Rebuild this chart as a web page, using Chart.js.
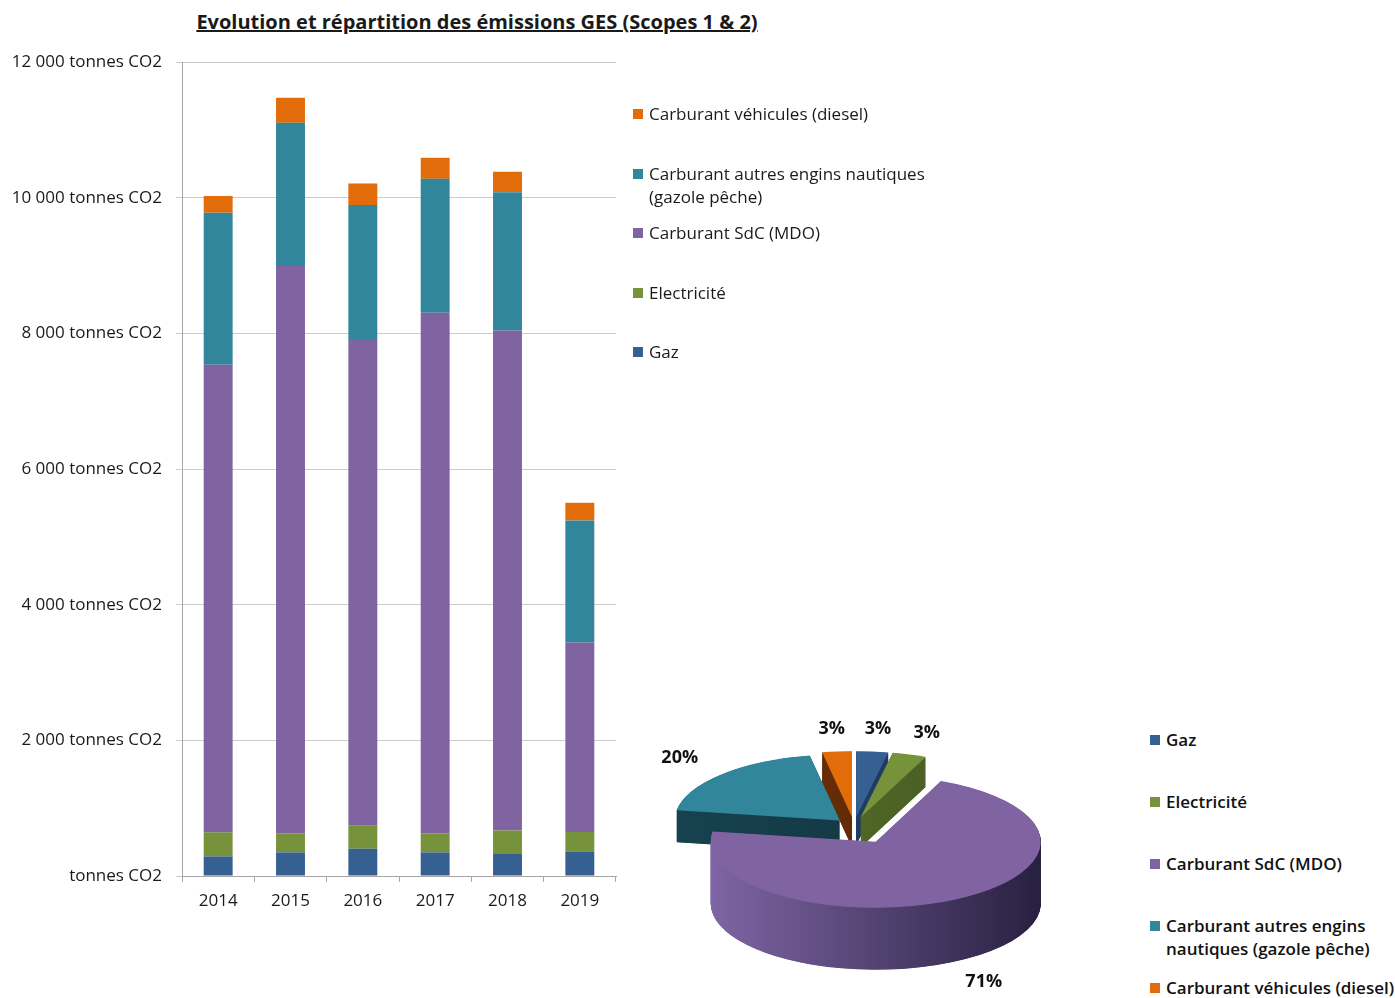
<!DOCTYPE html>
<html lang="fr">
<head>
<meta charset="utf-8">
<script src="https://cdn.jsdelivr.net/npm/chart.js@4.4.1/dist/chart.umd.min.js"></script>
<style>
	body		{ margin: 0; width: 1395px; height: 998px; overflow: hidden; background: #fff; position: relative;
				  font-family: "Open Sans", sans-serif; color: #1a1a1a; }
	#title		{ position: absolute; left: 0; top: 8px; width: 954px; text-align: center;
				  font-weight: bold; font-size: 20px; text-decoration: underline; }
	#barChart	{ position: absolute; left: 0; top: 0; }
	#pieChart	{ position: absolute; left: 614px; top: 646px; }
	.legend		{ position: absolute; font-size: 17px; line-height: 23px; }
	.legend .item	{ position: absolute; left: 0; white-space: nowrap; padding-left: 16px; }
	.legend .sw		{ position: absolute; left: 0; top: 7px; width: 10px; height: 10px; }
	#pieLegend	{ font-weight: 600; color: #111; }
</style>
</head>
<body>
<div id="title">Evolution et répartition des émissions GES (Scopes 1 &amp; 2)</div>
<canvas id="barChart" width="640" height="930"></canvas>
<div id="barLegend" class="legend" style="left:633px; top:102px;"></div>
<canvas id="pieChart" width="480" height="360"></canvas>
<div id="pieLegend" class="legend" style="left:1150px; top:728px;"></div>
<script>
// données (tonnes CO2)
const years				= [ '2014', '2015', '2016', '2017', '2018', '2019' ];
const gaz				= [ 289, 348, 402, 348, 324, 363 ];
const electricite		= [ 354, 280, 339, 280, 347, 286 ];
const carburantSdC		= [ 6894, 8364, 7174, 7675, 7370, 2794 ];
const carburantAutres	= [ 2241, 2112, 1976, 1975, 2040, 1799 ];
const carburantDiesel	= [ 246, 369, 318, 310, 301, 260 ];

const seriesNames	= [ 'Gaz', 'Electricité', 'Carburant SdC (MDO)',
						'Carburant autres engins nautiques (gazole pêche)', 'Carburant véhicules (diesel)' ];
const seriesColors	= [ '#366092', '#76933C', '#8064A2', '#31869B', '#E26B0A' ];
const sideColors	= [ [ '#284a78', '#1a3050' ], [ '#5a7330', '#44581f' ], [ '#7e65a4', '#282040' ],
						[ '#17424f', '#10323c' ], [ '#7a3608', '#4a2004' ] ];

// libellés de légende (retours à la ligne comme sur l'original)
const barLegendLabels	= [ 'Gaz', 'Electricité', 'Carburant SdC (MDO)',
							'Carburant autres engins nautiques\n(gazole pêche)', 'Carburant véhicules (diesel)' ];
const pieLegendLabels	= [ 'Gaz', 'Electricité', 'Carburant SdC (MDO)',
							'Carburant autres engins\nnautiques (gazole pêche)', 'Carburant véhicules (diesel)' ];

const yMax		= 12000;
const yStep		= 2000;
const pieYear	= '2018';

const allSeries	= [ gaz, electricite, carburantSdC, carburantAutres, carburantDiesel ];

const tickFont	= { family: '"Open Sans"', size: 17 };

function fmtTonnes( v ) {
	if ( v === 0 ) return 'tonnes CO2';
	return String( v ).replace( /\B(?=(\d{3})+(?!\d))/g, ' ' ) + ' tonnes CO2';
}

// --- histogramme empilé ---
new Chart( document.getElementById( 'barChart' ), {
	type: 'bar',
	data: {
		labels: years,
		datasets: allSeries.map( ( s, i ) => ( {
			label: seriesNames[ i ],
			data: s,
			backgroundColor: seriesColors[ i ],
			borderWidth: 0
		} ) )
	},
	options: {
		responsive: false,
		animation: false,
		layout: { padding: { top: 62, right: 24, bottom: 4, left: 0 } },
		datasets: { bar: { barPercentage: 0.4, categoryPercentage: 1 } },
		plugins: { legend: { display: false }, tooltip: { enabled: false } },
		scales: {
			x: {
				stacked: true,
				grid: { drawOnChartArea: false, tickLength: 6, color: '#a6a6a6', offset: true },
				border: { color: '#a6a6a6' },
				ticks: { font: tickFont, color: '#1a1a1a', padding: 9 },
				afterFit: s => { s.height = 50; }
			},
			y: {
				stacked: true,
				min: 0,
				max: yMax,
				grid: { color: '#cccccc', tickLength: 6 },
				border: { color: '#a6a6a6' },
				ticks: { stepSize: yStep, padding: 14, font: tickFont, color: '#1a1a1a', callback: v => fmtTonnes( v ) },
				afterFit: s => { s.width = 182; }
			}
		}
	}
} );

// --- légendes HTML ---
function buildLegend( id, order, labels, rowStep ) {
	const box = document.getElementById( id );
	order.forEach( ( idx, row ) => {
		const it = document.createElement( 'div' );
		it.className = 'item';
		it.style.top = ( row * rowStep ) + 'px';
		const sw = document.createElement( 'span' );
		sw.className = 'sw';
		sw.style.background = seriesColors[ idx ];
		it.appendChild( sw );
		labels[ idx ].split( '\n' ).forEach( ( line, k ) => {
			if ( k ) it.appendChild( document.createElement( 'br' ) );
			it.appendChild( document.createTextNode( line ) );
		} );
		box.appendChild( it );
	} );
}
buildLegend( 'barLegend', [ 4, 3, 2, 1, 0 ], barLegendLabels, 59.5 );
buildLegend( 'pieLegend', [ 0, 1, 2, 3, 4 ], pieLegendLabels, 62 );

// --- camembert 3D éclaté ---
const TILT		= 0.4;
const explode	= [ 22, 22, 45, 20, 22 ];
const depthPx	= [ 28, 30, 62, 32, 30 ];

const pieIndex	= years.indexOf( pieYear );
const pieValues	= allSeries.map( s => s[ pieIndex ] );
const pieTotal	= pieValues.reduce( ( a, b ) => a + b, 0 );

const pie3d = {
	id: 'pie3d',
	beforeDatasetsDraw( chart ) {
		const ctx	= chart.ctx;
		const arcs	= chart.getDatasetMeta( 0 ).data;
		const cx	= arcs[ 0 ].x;
		const cy	= arcs[ 0 ].y;

		ctx.save();
		ctx.translate( cx, cy );
		ctx.scale( 1, TILT );
		ctx.translate( -cx, -cy );

		// du fond vers l'avant
		const order = arcs.map( ( a, i ) => i ).sort( ( a, b ) => {
			const ma = ( arcs[ a ].startAngle + arcs[ a ].endAngle ) / 2;
			const mb = ( arcs[ b ].startAngle + arcs[ b ].endAngle ) / 2;
			return Math.sin( ma ) - Math.sin( mb );
		} );

		for ( const i of order ) {
			const a		= arcs[ i ];
			const mid	= ( a.startAngle + a.endAngle ) / 2;
			const ex	= Math.cos( mid ) * explode[ i ];
			const ey	= Math.sin( mid ) * explode[ i ];
			const r		= a.outerRadius;

			ctx.save();
			ctx.translate( ex, ey );

			const g = ctx.createLinearGradient( a.x - r, 0, a.x + r, 0 );
			g.addColorStop( 0, sideColors[ i ][ 0 ] );
			g.addColorStop( 1, sideColors[ i ][ 1 ] );
			ctx.fillStyle = g;
			for ( let d = depthPx[ i ] / TILT; d > 0; d -= 1 ) {
				ctx.beginPath();
				ctx.moveTo( a.x, a.y + d );
				ctx.arc( a.x, a.y + d, r, a.startAngle, a.endAngle );
				ctx.closePath();
				ctx.fill();
			}
			a.draw( ctx );
			ctx.restore();
		}
		ctx.restore();
		return false;
	},
	afterDraw( chart ) {
		const ctx	= chart.ctx;
		const arcs	= chart.getDatasetMeta( 0 ).data;
		ctx.save();
		ctx.font			= 'bold 18px "Open Sans"';
		ctx.fillStyle		= '#111';
		ctx.textAlign		= 'center';
		ctx.textBaseline	= 'middle';
		arcs.forEach( ( a, i ) => {
			const mid	= ( a.startAngle + a.endAngle ) / 2;
			const R		= a.outerRadius + 58;
			const x		= a.x + Math.cos( mid ) * ( explode[ i ] + R );
			let y		= a.y + Math.sin( mid ) * ( explode[ i ] + R ) * TILT;
			if ( Math.sin( mid ) > 0 ) y += depthPx[ i ];
			ctx.fillText( Math.round( pieValues[ i ] / pieTotal * 100 ) + '%', x, y );
		} );
		ctx.restore();
	}
};

new Chart( document.getElementById( 'pieChart' ), {
	type: 'pie',
	data: {
		labels: seriesNames,
		datasets: [ { data: pieValues, backgroundColor: seriesColors, borderWidth: 0 } ]
	},
	options: {
		responsive: false,
		animation: false,
		layout: { padding: 15 },
		plugins: { legend: { display: false }, tooltip: { enabled: false } }
	},
	plugins: [ pie3d ]
} );
</script>
</body>
</html>
